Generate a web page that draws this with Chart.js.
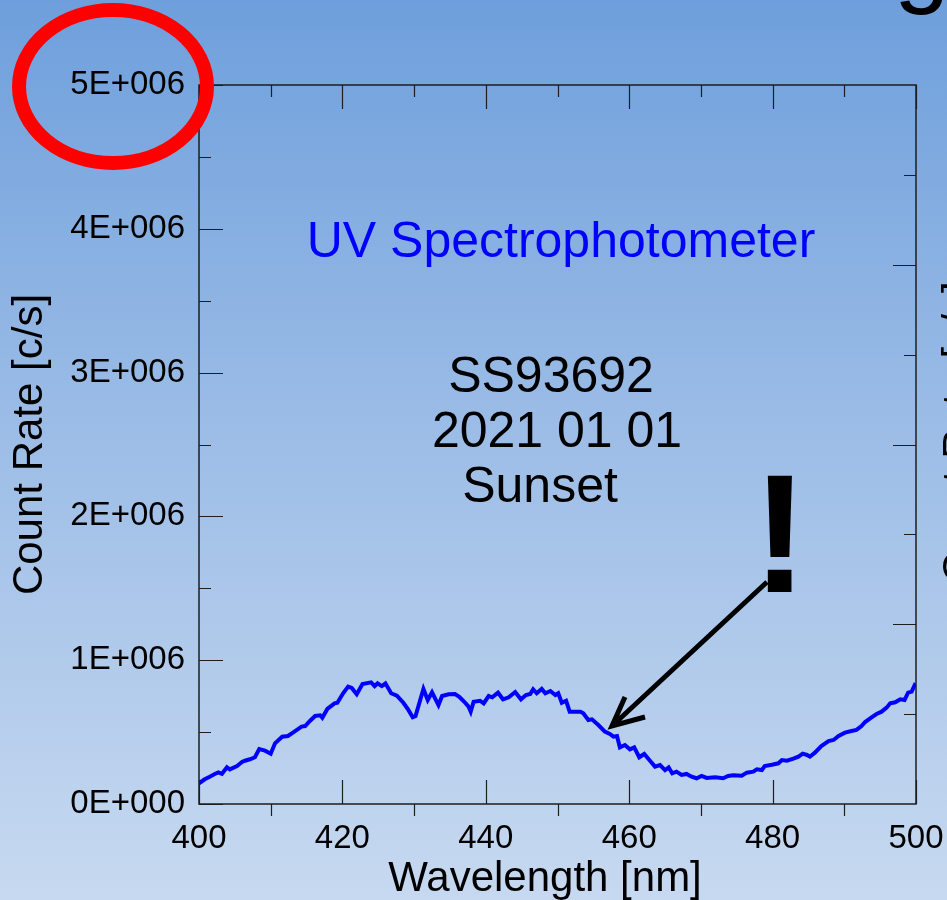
<!DOCTYPE html>
<html>
<head>
<meta charset="utf-8">
<script src="https://cdn.jsdelivr.net/npm/chart.js@4/dist/chart.umd.min.js"></script>
<style>
  html, body { margin: 0; padding: 0; background: #9dbde6; }
  #wrap { width: 947px; height: 900px; position: relative; }
</style>
</head>
<body>
<div id="wrap"><canvas id="c"></canvas></div>
<script>
// Spectrum: wavelength [nm] and count rate [c/s]
const wavelength = [
  400.0, 400.8, 401.5, 402.2, 402.7, 403.2, 403.9, 404.3, 405.3, 406.0,
  406.4, 407.1, 407.8, 408.4, 409.2, 410.0, 410.6, 411.6, 412.4, 413.2,
  414.3, 414.8, 415.5, 416.2, 416.9, 417.2, 417.9, 418.9, 419.3, 420.1,
  420.8, 421.3, 422.0, 422.8, 424.0, 424.5, 424.9, 425.5, 426.0, 426.8,
  427.6, 428.5, 429.2, 429.8, 430.2, 431.3, 431.9, 432.5, 433.4, 433.9,
  434.8, 435.7, 436.3, 437.0, 437.6, 437.9, 438.3, 439.2, 439.7, 440.4,
  440.9, 441.7, 442.4, 443.2, 444.1, 444.9, 445.6, 446.2, 446.6, 447.1,
  447.8, 448.3, 449.0, 449.7, 450.1, 450.6, 451.2, 451.7, 452.4, 453.2,
  453.6, 454.3, 454.8, 455.7, 456.6, 457.3, 457.8, 458.3, 458.7, 459.4,
  460.1, 460.7, 461.4, 462.1, 462.9, 463.6, 464.3, 465.0, 465.5, 466.0,
  466.6, 467.3, 468.0, 468.7, 469.4, 470.1, 470.8, 472.0, 473.1, 473.8,
  474.5, 475.7, 476.4, 477.3, 477.8, 478.5, 478.9, 479.9, 480.8, 481.3,
  482.0, 482.9, 483.6, 484.2, 484.8, 485.2, 485.9, 486.8, 487.8, 488.5,
  489.2, 490.1, 491.0, 491.7, 492.4, 492.9, 493.8, 494.5, 495.2, 495.9,
  496.4, 497.1, 497.8, 498.4, 498.9, 499.4, 499.8, 500.0
];
const countRate = [
  144000, 172000, 190000, 209000, 220000, 210000, 255000, 241000, 264000, 292000,
  301000, 311000, 325000, 382000, 371000, 350000, 422000, 468000, 473000, 500000,
  538000, 542000, 579000, 612000, 617000, 600000, 661000, 700000, 704000, 770000,
  816000, 807000, 763000, 834000, 846000, 820000, 839000, 820000, 839000, 770000,
  753000, 704000, 654000, 603000, 612000, 800000, 723000, 777000, 688000, 751000,
  763000, 765000, 746000, 711000, 677000, 642000, 711000, 718000, 700000, 751000,
  742000, 774000, 728000, 742000, 779000, 728000, 758000, 765000, 798000, 770000,
  800000, 770000, 786000, 758000, 770000, 704000, 718000, 642000, 642000, 642000,
  631000, 584000, 589000, 549000, 503000, 487000, 468000, 473000, 394000, 410000,
  380000, 394000, 325000, 348000, 301000, 260000, 271000, 236000, 255000, 213000,
  225000, 202000, 209000, 190000, 179000, 195000, 181000, 186000, 179000, 195000,
  200000, 197000, 218000, 225000, 241000, 236000, 264000, 273000, 283000, 306000,
  301000, 315000, 329000, 350000, 341000, 329000, 357000, 403000, 438000, 445000,
  473000, 496000, 508000, 515000, 542000, 570000, 603000, 626000, 642000, 670000,
  700000, 707000, 728000, 723000, 774000, 781000, 825000, 816000
];

// Axis tick values
const xTickLabels = [400, 420, 440, 460, 480, 500];
const xMinorTicks = [410, 430, 450, 470, 490];
const yTickLabels = [0, 1000000, 2000000, 3000000, 4000000, 5000000];
const yMinorTicks = [500000, 1500000, 2500000, 3500000, 4500000];
const rightTicks = [1, 2, 3, 4, 5, 6, 7];

const FONT = "'Liberation Sans', Arial, sans-serif";

// "5E+006" style scientific labels
function sciLabel(v) {
  if (v === 0) return '0E+000';
  const exp = Math.floor(Math.log10(v) + 1e-9);
  const mant = Math.round(v / Math.pow(10, exp) * 100) / 100;
  return mant + 'E+' + String(exp).padStart(3, '0');
}

const backgroundPlugin = {
  id: 'slideBackground',
  beforeDraw(chart) {
    const { ctx, width, height } = chart;
    const g = ctx.createLinearGradient(0, 0, 0, height);
    g.addColorStop(0, '#6e9fdc');
    g.addColorStop(0.5, '#9ebee7');
    g.addColorStop(1, '#c7d9f0');
    ctx.save();
    ctx.fillStyle = g;
    ctx.fillRect(0, 0, width, height);
    ctx.restore();
  }
};

// Plot frame and inward/outward tick marks
const framePlugin = {
  id: 'frameTicks',
  afterDatasetsDraw(chart) {
    const { ctx, chartArea: a, scales } = chart;
    const x = scales.x, y = scales.y, y2 = scales.y2;
    ctx.save();
    ctx.strokeStyle = '#1e1e1e';
    ctx.lineWidth = 1.5;
    ctx.strokeRect(a.left, a.top, a.right - a.left, a.bottom - a.top);
    ctx.lineWidth = 1.2;
    ctx.beginPath();
    // bottom axis: majors point inward, minors outward; top axis: all inward
    xTickLabels.forEach(v => {
      const px = Math.round(x.getPixelForValue(v)) + 0.5;
      ctx.moveTo(px, a.bottom); ctx.lineTo(px, a.bottom - 24);
      ctx.moveTo(px, a.top); ctx.lineTo(px, a.top + 24);
    });
    xMinorTicks.forEach(v => {
      const px = Math.round(x.getPixelForValue(v)) + 0.5;
      ctx.moveTo(px, a.bottom); ctx.lineTo(px, a.bottom + 12);
      ctx.moveTo(px, a.top); ctx.lineTo(px, a.top + 12);
    });
    // left axis
    yTickLabels.forEach(v => {
      const py = Math.round(y.getPixelForValue(v)) + 0.5;
      ctx.moveTo(a.left, py); ctx.lineTo(a.left + 24, py);
    });
    yMinorTicks.forEach(v => {
      const py = Math.round(y.getPixelForValue(v)) + 0.5;
      ctx.moveTo(a.left, py); ctx.lineTo(a.left + 12, py);
    });
    // right axis (secondary scale)
    rightTicks.forEach(v => {
      const py = Math.round(y2.getPixelForValue(v)) + 0.5;
      const len = v % 2 === 0 ? 23 : 12;
      ctx.moveTo(a.right, py); ctx.lineTo(a.right - len, py);
    });
    ctx.stroke();
    ctx.restore();
  },
  afterDraw(chart) {
    const { ctx } = chart;
    ctx.save();
    // x axis title
    ctx.fillStyle = '#000';
    ctx.font = '42px ' + FONT;
    ctx.textAlign = 'center';
    ctx.textBaseline = 'alphabetic';
    ctx.fillText('Wavelength [nm]', 545, 891);

    // right-hand axis title, cut by the canvas edge
    ctx.save();
    ctx.translate(960, 432);
    ctx.rotate(-Math.PI / 2);
    ctx.textBaseline = 'middle';
    ctx.fillText('Count Rate [c/s]', 0, 0);
    ctx.restore();

    // heading glyph cut at the top edge
    ctx.font = '100px ' + FONT;
    ctx.textAlign = 'left';
    ctx.fillText('g', 894, -6);

    // annotations
    ctx.fillStyle = '#0000ff';
    ctx.font = '50px ' + FONT;
    ctx.textAlign = 'center';
    ctx.fillText('UV Spectrophotometer', 561, 257);
    ctx.fillStyle = '#000';
    ctx.fillText('SS93692', 551, 392);
    ctx.fillText('2021 01 01', 557, 447);
    ctx.fillText('Sunset', 540, 502);

    ctx.font = "bold 168px 'Liberation Sans', Arial, sans-serif";
    ctx.fillText('!', 780, 592);

    // arrow
    ctx.strokeStyle = '#000';
    ctx.lineWidth = 5;
    ctx.lineJoin = 'miter';
    ctx.beginPath();
    ctx.moveTo(767, 582);
    ctx.lineTo(612, 726);
    ctx.moveTo(625, 697);
    ctx.lineTo(612, 726);
    ctx.lineTo(645, 717);
    ctx.stroke();

    // red highlight ellipse
    ctx.strokeStyle = '#ff0000';
    ctx.lineWidth = 14;
    ctx.beginPath();
    ctx.ellipse(113, 86.5, 94, 76.5, 0, 0, Math.PI * 2);
    ctx.stroke();
    ctx.restore();
  }
};

new Chart(document.getElementById('c'), {
  type: 'line',
  data: {
    datasets: [{
      data: wavelength.map((w, i) => ({ x: w, y: countRate[i] })),
      borderColor: '#0000ff',
      borderWidth: 4,
      pointRadius: 0,
      tension: 0,
      fill: false
    }]
  },
  options: {
    responsive: true,
    maintainAspectRatio: false,
    animation: false,
    events: [],
    layout: { padding: { top: 85, right: 31, left: 0, bottom: 0 } },
    plugins: { legend: { display: false }, tooltip: { enabled: false } },
    scales: {
      x: {
        type: 'linear',
        min: 400, max: 500,
        grid: { display: false, drawTicks: false },
        border: { display: false },
        afterBuildTicks: s => { s.ticks = xTickLabels.map(v => ({ value: v })); },
        afterFit: s => { s.height = 96; s.paddingLeft = 0; s.paddingRight = 0; },
        ticks: {
          font: { family: FONT, size: 33 },
          color: '#000',
          padding: 15,
          maxRotation: 0,
          autoSkip: false
        }
      },
      y: {
        min: 0, max: 5000000,
        grid: { display: false, drawTicks: false },
        border: { display: false },
        afterBuildTicks: s => { s.ticks = yTickLabels.map(v => ({ value: v })); },
        afterFit: s => { s.width = 199; s.paddingTop = 0; s.paddingBottom = 0; },
        ticks: {
          font: { family: FONT, size: 33 },
          color: '#000',
          padding: 14,
          callback: v => sciLabel(v)
        },
        title: {
          display: true,
          text: 'Count Rate [c/s]',
          color: '#000',
          font: { family: FONT, size: 42, lineHeight: 1.2 },
          padding: { top: 5, bottom: 0 }
        }
      },
      y2: {
        display: false,
        position: 'right',
        min: 0, max: 8
      }
    }
  },
  plugins: [backgroundPlugin, framePlugin]
});
</script>
</body>
</html>
